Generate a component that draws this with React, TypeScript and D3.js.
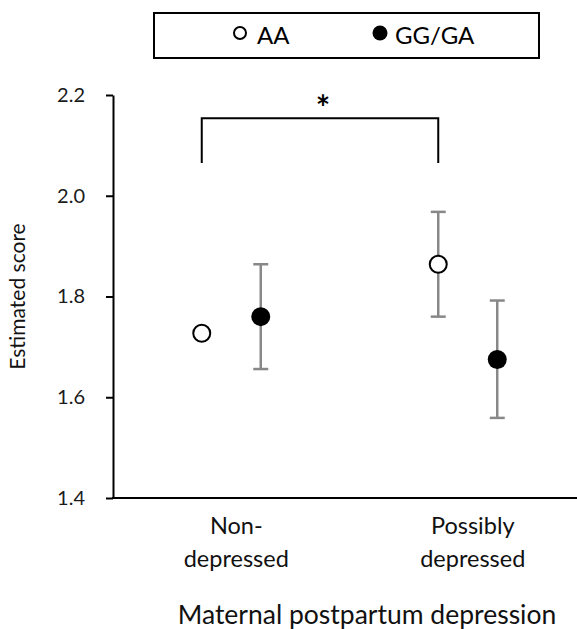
import React, { useEffect, useRef } from 'react';
import * as d3 from 'd3';

const categories = ['Non-depressed', 'Possibly depressed'];
const categoryLines = [['Non-', 'depressed'], ['Possibly', 'depressed']];
const series = ['AA', 'GG/GA'];

const aaMean = [1.727, 1.864];
const aaLow = [null, 1.76];
const aaHigh = [null, 1.968];

const ggMean = [1.76, 1.675];
const ggLow = [1.656, 1.559];
const ggHigh = [1.864, 1.792];

const yTicks = [1.4, 1.6, 1.8, 2.0, 2.2];
const bracketTop = 2.154;
const bracketBottom = 2.065;

const FONT = 'Lato, "Open Sans", sans-serif';

export default function App() {
  const ref = useRef<SVGSVGElement>(null);

  useEffect(() => {
    document.body.style.margin = '0';
    const svg = d3.select(ref.current);
    svg.selectAll('*').remove();

    const x = d3.scaleBand().domain(categories).range([113, 586]);
    const xs = d3.scalePoint().domain(series).range([-29.5, 29.5]);
    const y = d3.scaleLinear().domain([1.4, 2.2]).range([498, 95]);
    const cx = (i: number, s: string) => x(categories[i])! + x.bandwidth() / 2 + xs(s)!;

    // y axis
    const yAxis = d3.axisLeft(y)
      .tickValues(yTicks)
      .tickFormat(d3.format('.1f'))
      .tickSize(7)
      .tickSizeOuter(0)
      .tickPadding(21);
    const ga = svg.append('g').attr('transform', 'translate(113,0)').call(yAxis);
    ga.select('.domain').attr('stroke', '#000').attr('stroke-width', 2);
    ga.selectAll('.tick line').attr('stroke', '#000').attr('stroke-width', 2);
    ga.selectAll('.tick text')
      .attr('font-family', FONT)
      .attr('font-size', 20)
      .attr('fill', '#1a1a1a');

    // x axis line
    svg.append('line')
      .attr('x1', 112).attr('x2', 577)
      .attr('y1', y(1.4)).attr('y2', y(1.4))
      .attr('stroke', '#000').attr('stroke-width', 2);

    // category labels
    categories.forEach((c, i) => {
      const t = svg.append('text')
        .attr('x', x(c)! + x.bandwidth() / 2 + 5)
        .attr('y', 534)
        .attr('text-anchor', 'middle')
        .attr('font-family', FONT)
        .attr('font-size', 23.5)
        .attr('fill', '#111');
      categoryLines[i].forEach((line, k) => {
        t.append('tspan')
          .attr('x', x(c)! + x.bandwidth() / 2 + 5)
          .attr('dy', k === 0 ? 0 : 33)
          .text(line);
      });
    });

    // axis titles
    svg.append('text')
      .attr('x', 367).attr('y', 624)
      .attr('text-anchor', 'middle')
      .attr('font-family', FONT)
      .attr('font-size', 26.5)
      .attr('fill', '#111')
      .text('Maternal postpartum depression');

    svg.append('text')
      .attr('transform', `translate(25,${(y(1.4) + y(2.2)) / 2}) rotate(-90)`)
      .attr('text-anchor', 'middle')
      .attr('font-family', FONT)
      .attr('font-size', 21)
      .attr('fill', '#111')
      .text('Estimated score');

    // error bars
    const bars: { x: number; lo: number; hi: number }[] = [];
    categories.forEach((_, i) => {
      if (aaLow[i] != null) bars.push({ x: cx(i, 'AA'), lo: aaLow[i]!, hi: aaHigh[i]! });
      bars.push({ x: cx(i, 'GG/GA'), lo: ggLow[i], hi: ggHigh[i] });
    });
    const eb = svg.append('g').attr('stroke', '#888').attr('stroke-width', 2.5);
    bars.forEach(b => {
      eb.append('line').attr('x1', b.x).attr('x2', b.x).attr('y1', y(b.lo)).attr('y2', y(b.hi));
      eb.append('line').attr('x1', b.x - 7.5).attr('x2', b.x + 7.5).attr('y1', y(b.lo)).attr('y2', y(b.lo));
      eb.append('line').attr('x1', b.x - 7.5).attr('x2', b.x + 7.5).attr('y1', y(b.hi)).attr('y2', y(b.hi));
    });

    // markers
    svg.append('g').selectAll('circle')
      .data(aaMean)
      .enter().append('circle')
      .attr('cx', (_, i) => cx(i, 'AA'))
      .attr('cy', d => y(d))
      .attr('r', 8.5)
      .attr('fill', '#fff')
      .attr('stroke', '#000')
      .attr('stroke-width', 2);

    svg.append('g').selectAll('circle')
      .data(ggMean)
      .enter().append('circle')
      .attr('cx', (_, i) => cx(i, 'GG/GA'))
      .attr('cy', d => y(d))
      .attr('r', 9.5)
      .attr('fill', '#000');

    // significance bracket
    const bx1 = cx(0, 'AA');
    const bx2 = cx(1, 'AA');
    svg.append('path')
      .attr('d', `M${bx1},${y(bracketBottom)}V${y(bracketTop)}H${bx2}V${y(bracketBottom)}`)
      .attr('fill', 'none')
      .attr('stroke', '#000')
      .attr('stroke-width', 2);
    svg.append('text')
      .attr('x', (bx1 + bx2) / 2 + 3)
      .attr('y', y(bracketTop) + 2)
      .attr('text-anchor', 'middle')
      .attr('font-family', FONT)
      .attr('font-size', 34)
      .attr('font-weight', 'bold')
      .attr('fill', '#000')
      .text('*');

    // legend
    const lg = svg.append('g');
    lg.append('rect')
      .attr('x', 154).attr('y', 13).attr('width', 385).attr('height', 45)
      .attr('fill', '#fff').attr('stroke', '#000').attr('stroke-width', 2);
    lg.append('circle').attr('cx', 240).attr('cy', 33).attr('r', 6)
      .attr('fill', '#fff').attr('stroke', '#000').attr('stroke-width', 2);
    lg.append('text').attr('x', 257).attr('y', 44)
      .attr('font-family', FONT).attr('font-size', 24).attr('fill', '#000')
      .text(series[0]);
    lg.append('circle').attr('cx', 380).attr('cy', 33).attr('r', 7.5).attr('fill', '#000');
    lg.append('text').attr('x', 395).attr('y', 44)
      .attr('font-family', FONT).attr('font-size', 24).attr('fill', '#000')
      .text(series[1]);
  }, []);

  return <svg ref={ref} width={577} height={629} />;
}
